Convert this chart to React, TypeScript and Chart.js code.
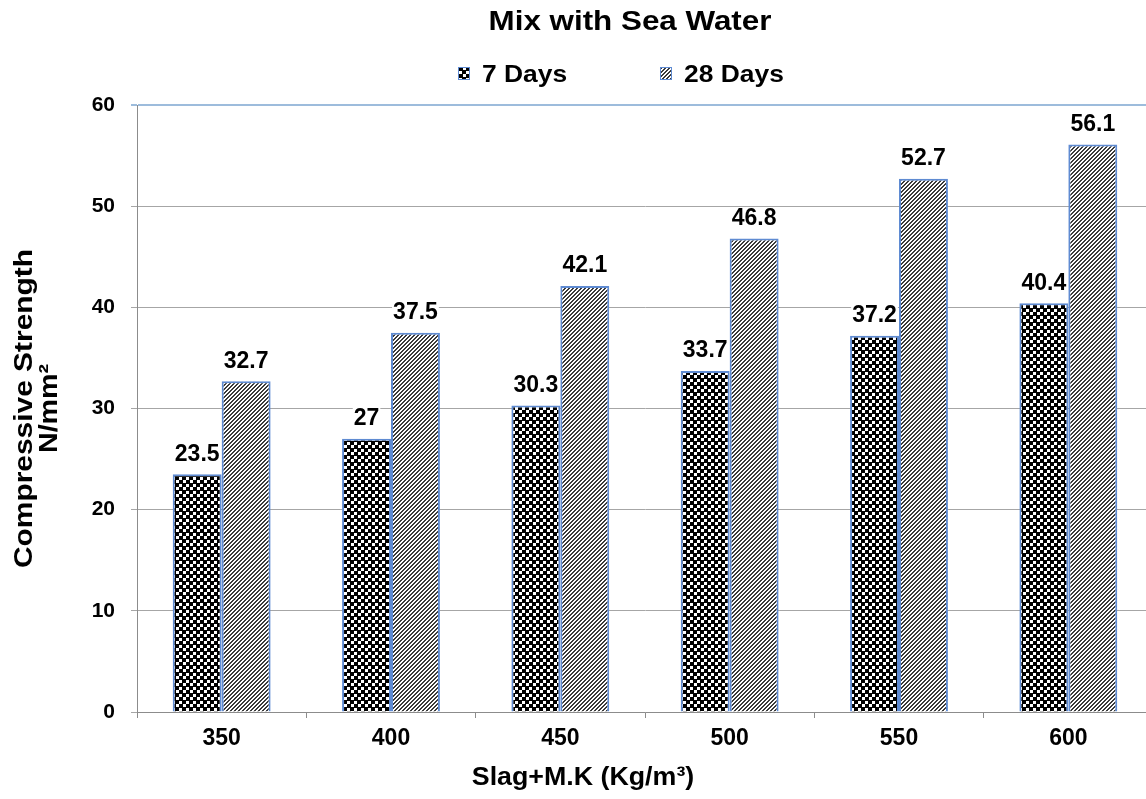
import React, { useEffect, useRef } from "react";
import { Chart, registerables } from "chart.js";

Chart.register(...registerables);

const categories = ["350", "400", "450", "500", "550", "600"];
const days7 = [23.5, 27, 30.3, 33.7, 37.2, 40.4];
const days28 = [32.7, 37.5, 42.1, 46.8, 52.7, 56.1];
const seriesNames = ["7 Days", "28 Days"];
const yMin = 0;
const yMax = 60;
const yStep = 10;
const chartTitle = "Mix with Sea Water";
const xTitle = "Slag+M.K (Kg/m\u00B3)";
const yTitleLines = ["Compressive Strength", "N/mm\u00B2"];

const FONT = "'Liberation Sans', Arial, Helvetica, sans-serif";
const BAR_BORDER = "#5f8bd2";

function makeChecker(): CanvasPattern | string {
  const t = document.createElement("canvas");
  t.width = 7;
  t.height = 7;
  const c = t.getContext("2d");
  if (!c) return "#555";
  c.fillStyle = "#ffffff";
  c.fillRect(0, 0, 7, 7);
  c.fillStyle = "#000000";
  c.fillRect(0, 0, 4, 4);
  c.fillRect(4, 4, 3, 3);
  c.fillRect(4, 0, 3, 1);
  c.fillRect(0, 4, 1, 3);
  const p = c.createPattern(t, "repeat");
  return p || "#555";
}

function makeStripes(): CanvasPattern | string {
  const t = document.createElement("canvas");
  t.width = 4;
  t.height = 4;
  const c = t.getContext("2d");
  if (!c) return "#777";
  c.fillStyle = "#ffffff";
  c.fillRect(0, 0, 4, 4);
  c.fillStyle = "#3a3a3a";
  for (let x = 0; x < 4; x++) {
    for (let y = 0; y < 4; y++) {
      if ((x + y) % 4 < 2) c.fillRect(x, y, 1, 1);
    }
  }
  const p = c.createPattern(t, "repeat");
  return p || "#777";
}

function drawText(
  ctx: CanvasRenderingContext2D,
  text: string,
  x: number,
  y: number,
  size: number,
  sx: number,
  align: CanvasTextAlign,
  rotate = false
) {
  ctx.save();
  ctx.translate(x, y);
  if (rotate) ctx.rotate(-Math.PI / 2);
  ctx.scale(sx, 1);
  ctx.font = `bold ${size}px ${FONT}`;
  ctx.fillStyle = "#000000";
  ctx.textAlign = align;
  ctx.textBaseline = "alphabetic";
  ctx.fillText(text, 0, 0);
  ctx.restore();
}

export default function App() {
  const ref = useRef<HTMLCanvasElement | null>(null);

  useEffect(() => {
    document.body.style.overflow = "hidden";
    const canvas = ref.current;
    if (!canvas) return;
    const checker = makeChecker();
    const stripes = makeStripes();
    const fills = [checker, stripes];

    const textPlugin = {
      id: "customText",
      afterDatasetsDraw(chart: any) {
        const ctx: CanvasRenderingContext2D = chart.ctx;
        chart.data.datasets.forEach((ds: any, di: number) => {
          const meta = chart.getDatasetMeta(di);
          meta.data.forEach((el: any, i: number) => {
            const v = ds.data[i];
            const label = String(v);
            ctx.save();
            ctx.font = `bold 23px ${FONT}`;
            const w = ctx.measureText(label).width;
            const cy = el.y - 21;
            ctx.fillStyle = "#ffffff";
            ctx.fillRect(el.x - w / 2 - 1, cy - 10, w + 2, 20);
            ctx.fillStyle = "#000000";
            ctx.textAlign = "center";
            ctx.textBaseline = "middle";
            ctx.fillText(label, el.x, cy + 1);
            ctx.restore();
          });
        });
      },
      afterDraw(chart: any) {
        const ctx: CanvasRenderingContext2D = chart.ctx;
        const area = chart.chartArea;
        drawText(ctx, chartTitle, 630, 30, 28, 1.12, "center");
        const boxes = [458, 660];
        seriesNames.forEach((name, i) => {
          const bx = boxes[i];
          ctx.save();
          ctx.fillStyle = fills[i] as any;
          ctx.fillRect(bx, 67, 12, 13);
          ctx.strokeStyle = BAR_BORDER;
          ctx.lineWidth = 1;
          ctx.strokeRect(bx + 0.5, 67.5, 11, 12);
          ctx.restore();
          drawText(ctx, name, bx + 24, 82, 24, 1.1, "left");
        });
        drawText(ctx, xTitle, 583, 785, 26, 1.03, "center");
        const cy = (area.top + area.bottom) / 2;
        drawText(ctx, yTitleLines[0], 32, cy, 26, 1.15, "center", true);
        drawText(ctx, yTitleLines[1], 57, cy, 26, 1.1, "center", true);
      },
    };

    const chart = new Chart(canvas, {
      type: "bar",
      data: {
        labels: categories,
        datasets: [
          {
            label: seriesNames[0],
            data: days7,
            backgroundColor: checker as any,
            borderColor: BAR_BORDER,
            borderWidth: 2,
            categoryPercentage: 0.578,
            barPercentage: 1,
          },
          {
            label: seriesNames[1],
            data: days28,
            backgroundColor: stripes as any,
            borderColor: BAR_BORDER,
            borderWidth: 2,
            categoryPercentage: 0.578,
            barPercentage: 1,
          },
        ],
      },
      options: {
        responsive: false,
        animation: false,
        devicePixelRatio: 1,
        layout: { padding: { top: 105, right: 7, left: 0, bottom: 0 } },
        plugins: {
          legend: { display: false },
          title: { display: false },
          tooltip: { enabled: false },
        },
        scales: {
          x: {
            type: "category",
            offset: true,
            grid: {
              offset: true,
              drawOnChartArea: false,
              drawTicks: true,
              tickLength: 6,
              color: "#8c8c8c",
            },
            border: { color: "#8c8c8c", width: 1 },
            ticks: {
              color: "#000000",
              padding: 7,
              font: { family: FONT, size: 23, weight: "bold" },
            },
            afterFit(scale: any) {
              scale.height = 87;
            },
          },
          y: {
            min: yMin,
            max: yMax,
            ticks: {
              stepSize: yStep,
              color: "#000000",
              padding: 16,
              font: { family: FONT, size: 21, weight: "bold" },
            },
            grid: {
              color: (c: any) => (c.tick && c.tick.value === yMax ? "#9dbcdc" : "#a6a6a6"),
              lineWidth: (c: any) => (c.tick && c.tick.value === yMax ? 2 : 1),
              tickLength: 6,
            },
            border: { color: "#8c8c8c", width: 1 },
            afterFit(scale: any) {
              scale.width = 137;
            },
          },
        },
      },
      plugins: [textPlugin],
    });
    return () => chart.destroy();
  }, []);

  return (
    <div style={{ position: "fixed", left: 0, top: 0, width: 1160, height: 799, background: "#ffffff" }}>
      <canvas ref={ref} width={1160} height={799} style={{ display: "block", width: 1160, height: 799 }} />
    </div>
  );
}
